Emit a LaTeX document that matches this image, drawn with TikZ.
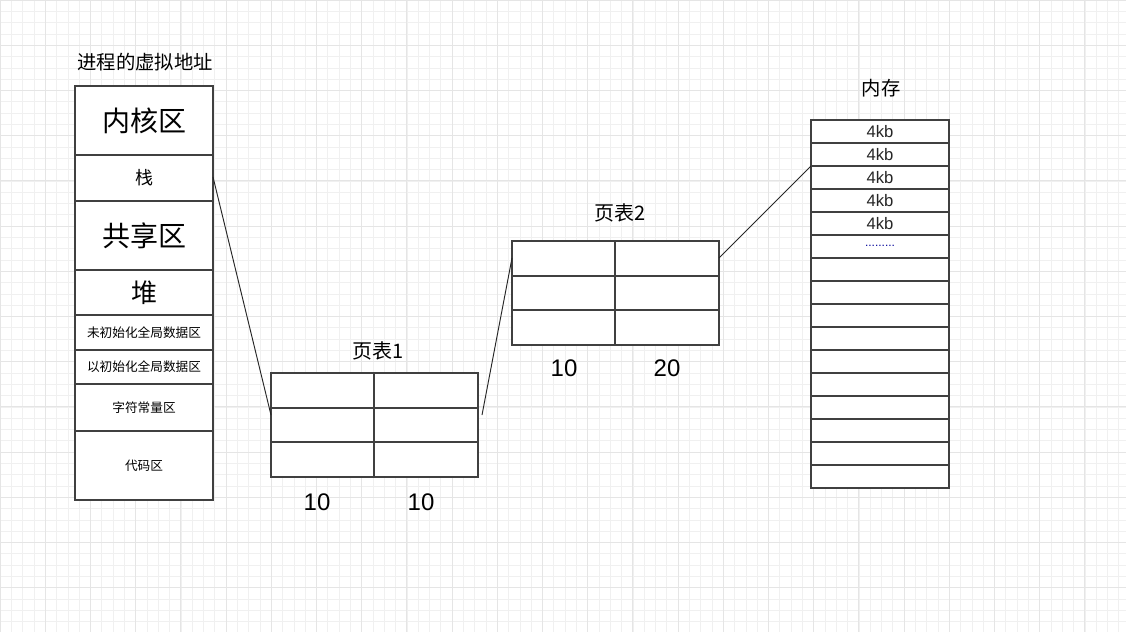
\documentclass[tikz,border=0pt]{standalone}
\usepackage{fontspec}
\setmainfont{Liberation Sans}
\newfontfamily\cjk{Noto Sans CJK SC}
\begin{document}
\begin{tikzpicture}[x=0.75pt,y=-0.75pt,
  cell/.style={draw=black!75,line width=0.8pt},
  lk/.style={draw=black!85,line width=0.7pt},
  fs/.style={font=\cjk\fontsize{#1}{#1}\selectfont}]
\useasboundingbox (0,0) rectangle (1126,632);
\fill[white] (0,0) rectangle (1126,632);
\foreach \i in {0,11.3,...,1130} \draw[black!6,line width=0.4pt] (\i,0) -- (\i,632);
\foreach \i in {0,11.3,...,632} \draw[black!6,line width=0.4pt] (0,\i) -- (1126,\i);
\foreach \i in {0,45.2,...,1130} \draw[black!10,line width=0.5pt] (\i,0) -- (\i,632);
\foreach \i in {0,45.2,...,632} \draw[black!10,line width=0.5pt] (0,\i) -- (1126,\i);
% left column
\node[fs=14.5] (vt) at (145,62) {进程的虚拟地址};
\foreach \a/\b/\t/\s [count=\k] in {86/155/内核区/21, 155/201/栈/13.5, 201/270/共享区/21, 270/315/堆/19.5, 315/350/未初始化全局数据区/9.5, 350/384/以初始化全局数据区/9.5, 384/431/字符常量区/9.5, 431/500/代码区/9.5}{
  \draw[cell,fill=white] (75,\a) rectangle (213,\b);
  \node[fs=\s] (v\k) at (144,{(\a+\b)/2}) {\t};
}
% page table 1
\foreach \a/\b in {373/408,408/442,442/477}{
  \draw[cell,fill=white] (271,\a) rectangle (374,\b);
  \draw[cell,fill=white] (374,\a) rectangle (478,\b);
}
\node[fs=15] (p1) at (378,351) {页表1};
\node[font=\fontsize{18}{18}\selectfont] (p1a) at (317,502) {10};
\node[font=\fontsize{18}{18}\selectfont] (p1b) at (421,502) {10};
% page table 2
\foreach \a/\b in {241/276,276/310,310/345}{
  \draw[cell,fill=white] (512,\a) rectangle (615,\b);
  \draw[cell,fill=white] (615,\a) rectangle (719,\b);
}
\node[fs=15] (p2) at (620,213) {页表2};
\node[font=\fontsize{18}{18}\selectfont] (p2a) at (564,368) {10};
\node[font=\fontsize{18}{18}\selectfont] (p2b) at (667,368) {20};
% memory
\node[fs=14.5] (mem) at (881,88) {内存};
\foreach \k in {0,...,15}{
  \draw[cell,fill=white] (811,{120+23*\k}) rectangle (949,{143+23*\k});
}
\foreach \k in {0,...,4}{
  \node[font=\fontsize{12.5}{12.5}\selectfont,text=black!85] (m\k) at (880,{131.5+23*\k}) {4kb};
}
\node[font=\fontsize{9}{9}\selectfont,text=blue!60!black] (mdots) at (880,246) {.........};
% connectors
\coordinate (c1) at (213,177); \coordinate (c2) at (271,415);
\coordinate (c3) at (482,415); \coordinate (c4) at (512,258);
\coordinate (c5) at (719,258); \coordinate (c6) at (811,166);
\draw[lk] (c1) -- (c2);
\draw[lk] (c3) -- (c4);
\draw[lk] (c5) -- (c6);
\end{tikzpicture}
\end{document}
